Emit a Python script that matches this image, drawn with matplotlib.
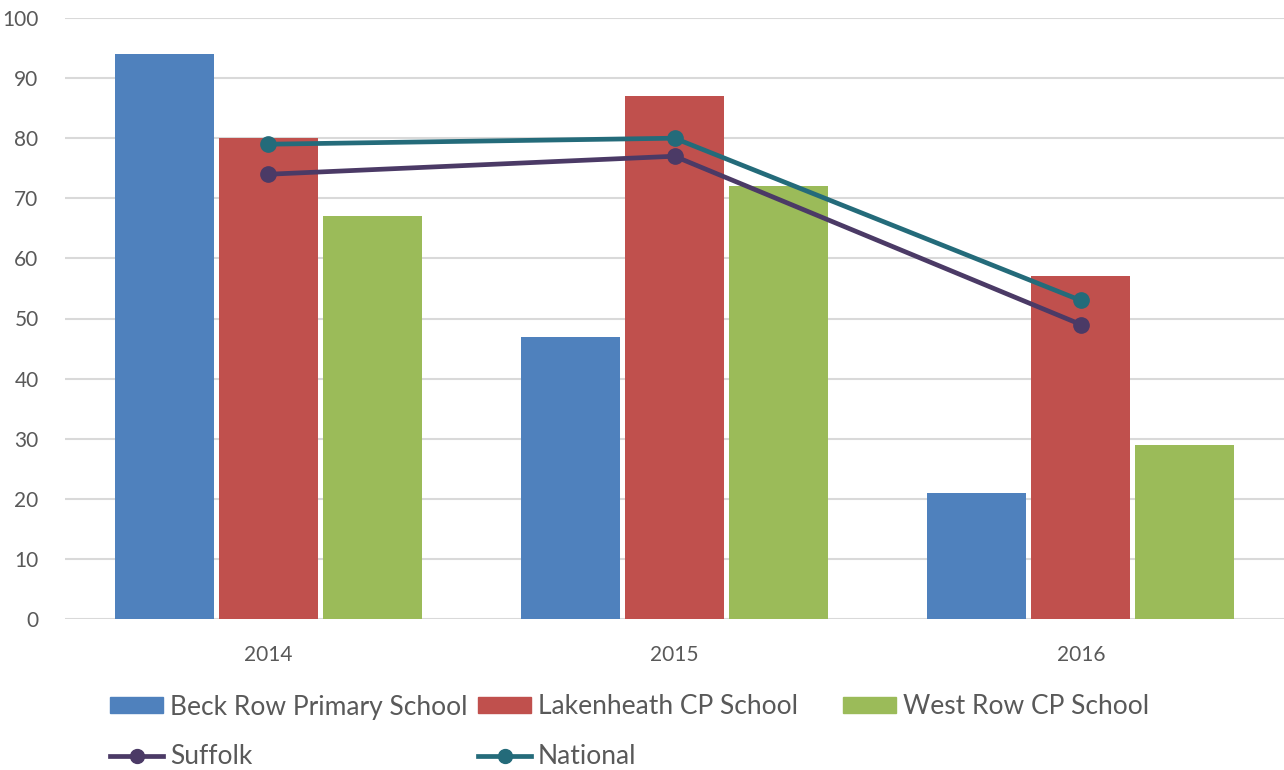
import matplotlib
matplotlib.use("Agg")
import matplotlib.pyplot as plt
import numpy as np
from matplotlib.patches import Patch
from matplotlib.lines import Line2D

years = ["2014", "2015", "2016"]
beck_row = [94, 47, 21]
lakenheath = [80, 87, 57]
west_row = [67, 72, 29]
suffolk = [74, 77, 49]
national = [79, 80, 53]

bar_names = ["Beck Row Primary School", "Lakenheath CP School", "West Row CP School"]
line_names = ["Suffolk", "National"]
bar_colors = ["#4F81BD", "#C0504D", "#9BBB59"]
line_colors = ["#4B3A66", "#246B7A"]

plt.rcParams['font.family'] = ['Lato', 'DejaVu Sans']
text_color = "#595959"

W, H = 1284, 770
fig = plt.figure(figsize=(W / 100, H / 100), dpi=100)
ax = fig.add_axes([65 / W, (H - 619) / H, (1284 - 65) / W, (619 - 18) / H])

x = np.arange(len(years))
bw = 0.2435
step = 0.256
for i, (vals, c) in enumerate(zip([beck_row, lakenheath, west_row], bar_colors)):
    ax.bar(x + (i - 1) * step, vals, width=bw, color=c, zorder=2)

for vals, c in zip([suffolk, national], line_colors):
    ax.plot(x, vals, color=c, lw=3.4, marker='o', markersize=11, zorder=3,
            solid_capstyle='round')

ax.set_xlim(-0.5, 2.5)
ax.set_ylim(0, 100)
ax.set_yticks(range(0, 101, 10))
ax.set_xticks(x)
ax.set_xticklabels(years)
ax.yaxis.grid(True, color="#D9D9D9", lw=1.5, zorder=0)
ax.set_axisbelow(True)
for s in ax.spines.values():
    s.set_visible(False)
ax.tick_params(axis='both', length=0, labelsize=15, labelcolor=text_color)
ax.tick_params(axis='y', pad=19)
ax.tick_params(axis='x', pad=19)

fs = 19
handles = [Patch(color=bar_colors[0]), Patch(color=bar_colors[1]), Patch(color=bar_colors[2]),
           Line2D([], [], color=line_colors[0], lw=3.4, marker='o', markersize=10),
           Line2D([], [], color=line_colors[1], lw=3.4, marker='o', markersize=10)]
labels = bar_names + line_names
positions = [(110, 707), (478, 707), (843, 707), (110, 757), (478, 757)]
fs_px = fs * 100 / 72
for h, l, (px, py) in zip(handles, labels, positions):
    leg = fig.legend([h], [l], loc='center left', bbox_to_anchor=(px / W, 1 - py / H),
                     frameon=False, fontsize=fs, borderpad=0, borderaxespad=0,
                     handlelength=53 / fs_px, handleheight=0.55, handletextpad=7 / fs_px,
                     labelcolor=text_color)

fig.savefig("out.png", dpi=100)
